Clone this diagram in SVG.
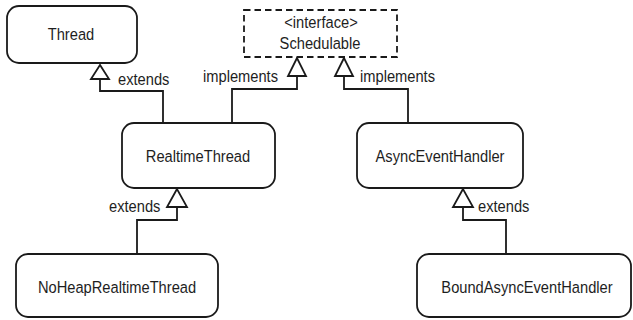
<svg xmlns="http://www.w3.org/2000/svg" width="633" height="320" viewBox="0 0 633 320">
<style>
.box{fill:#fff;stroke:#1a1a1a;stroke-width:1.8}
.iface{fill:#fff;stroke:#1a1a1a;stroke-width:1.8;stroke-dasharray:6.5,4}
.t{font-family:"Liberation Sans",Arial,sans-serif;font-size:16.5px;fill:#1e1e1e;text-anchor:middle}
.l{font-family:"Liberation Sans",Arial,sans-serif;font-size:16.5px;fill:#1e1e1e}
.c{fill:none;stroke:#1a1a1a;stroke-width:1.8}
.h{fill:#fff;stroke:#1a1a1a;stroke-width:1.8;stroke-linejoin:miter}
</style>
<g id="connectors">
<path class="c" d="M100,79 V91 H163 V123"/>
<polygon class="h" points="100,65 91,79 109,79"/>
<text class="l" transform="translate(118,85) scale(0.89,1)">extends</text>
<path class="c" d="M297,76 V89 H232 V123"/>
<polygon class="h" points="297,58 288,76 306,76"/>
<text class="l" transform="translate(203,82) scale(0.89,1)">implements</text>
<path class="c" d="M344,76 V89 H408 V123"/>
<polygon class="h" points="344,58 335,76 353,76"/>
<text class="l" transform="translate(360,82) scale(0.89,1)">implements</text>
<path class="c" d="M177,207 V220 H137 V254"/>
<polygon class="h" points="177,189 167,207 187,207"/>
<text class="l" transform="translate(109,212) scale(0.89,1)">extends</text>
<path class="c" d="M463,207 V220 H506 V254"/>
<polygon class="h" points="463,189 453,207 473,207"/>
<text class="l" transform="translate(478,212) scale(0.89,1)">extends</text>
</g>
<g id="Thread">
<rect class="box" x="7" y="6" width="130" height="57" rx="12"/>
<text class="t" transform="translate(71,40) scale(0.89,1)">Thread</text>
</g>
<g id="Schedulable">
<rect class="iface" x="244" y="10" width="153" height="47"/>
<text class="t" transform="translate(321,28) scale(0.89,1)">&lt;interface&gt;</text>
<text class="t" transform="translate(320,49) scale(0.89,1)">Schedulable</text>
</g>
<g id="RealtimeThread">
<rect class="box" x="122" y="123" width="153" height="65" rx="12"/>
<text class="t" transform="translate(198,162) scale(0.89,1)">RealtimeThread</text>
</g>
<g id="AsyncEventHandler">
<rect class="box" x="357" y="123" width="166" height="65" rx="12"/>
<text class="t" transform="translate(440,162) scale(0.89,1)">AsyncEventHandler</text>
</g>
<g id="NoHeapRealtimeThread">
<rect class="box" x="16" y="254" width="202" height="63" rx="12"/>
<text class="t" transform="translate(117,293) scale(0.89,1)">NoHeapRealtimeThread</text>
</g>
<g id="BoundAsyncEventHandler">
<rect class="box" x="417" y="254" width="214" height="63" rx="12"/>
<text class="t" transform="translate(527,293) scale(0.89,1)">BoundAsyncEventHandler</text>
</g>
</svg>
